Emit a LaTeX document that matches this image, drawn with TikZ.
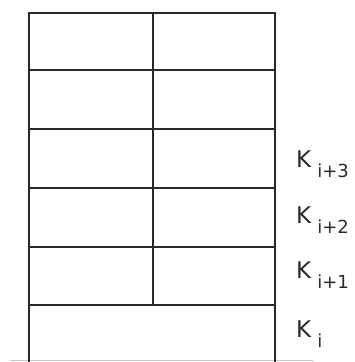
\documentclass[tikz,border=0pt]{standalone}
\usepackage{fontspec}
\setsansfont{DejaVu Sans}
\usepackage{xcolor}
\usepackage{tikz}
\usetikzlibrary{positioning}
\definecolor{kstrait}{HTML}{2A2A2A}
\definecolor{ksgrispale}{HTML}{C8C8C8}
\newcommand{\ksub}[1]{K\kern6pt\raisebox{-10.5pt}{\fontsize{18}{18}\selectfont #1}}

\begin{document}
\begin{tikzpicture}[x=1pt,y=-1pt,font=\sffamily\fontsize{23}{25}\selectfont]
  \useasboundingbox (0,0) rectangle (354,362);
  \draw[ksgrispale,line width=0.8pt] (10,360) -- (313,360);
  \draw[kstrait,line width=1.7pt] (29,362) -- (29,13) -- (275,13) -- (275,362);
  \foreach \y in {70,129,188,247,305} {\draw[kstrait,line width=1.6pt] (29,\y) -- (275,\y);}
  \draw[kstrait,line width=1.4pt] (153,13) -- (153,305);
  \foreach \y/\lab/\nm in {167/i+3/k3, 223/i+2/k2, 278/i+1/k1, 337/i/k0} {
    \node[anchor=base west,inner sep=0,text=kstrait] (\nm) at (296,\y) {\ksub{\lab}};
  }
\end{tikzpicture}
\end{document}
